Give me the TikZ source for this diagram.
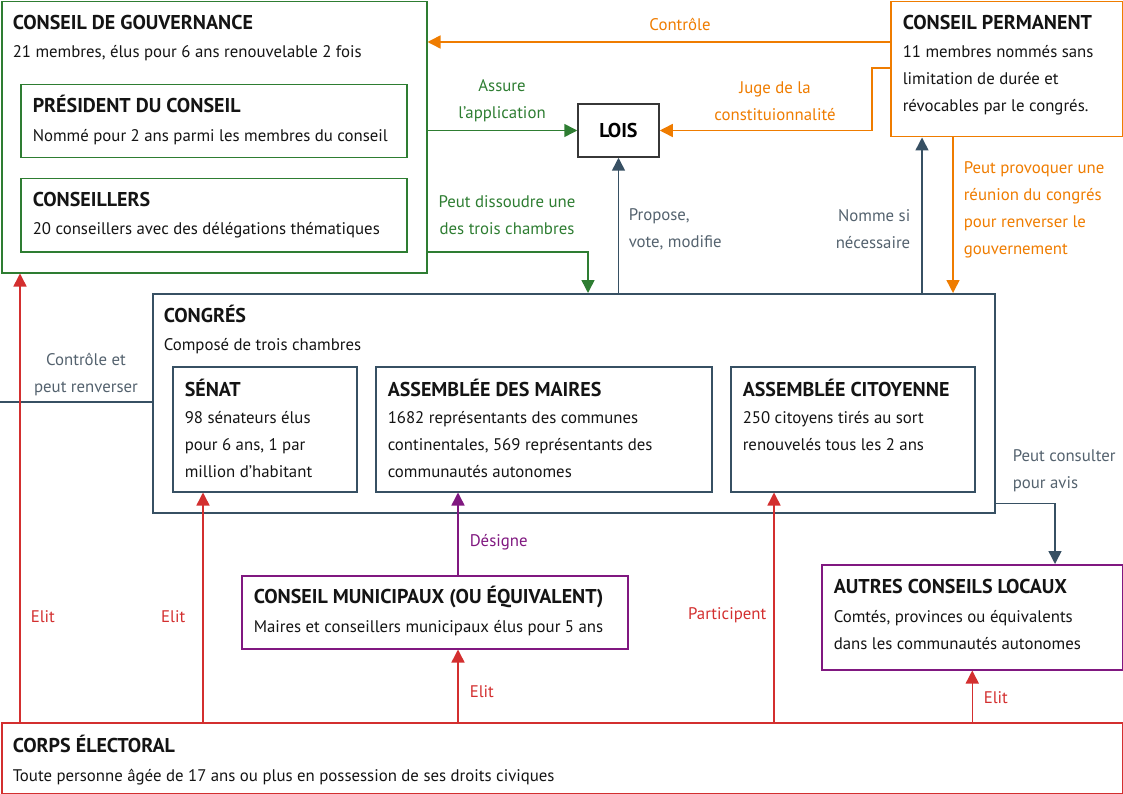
\documentclass[tikz,border=0pt]{standalone}
\usepackage{fontspec}
\setmainfont{PT Sans}
\usepackage{xcolor}
\definecolor{Vert}{RGB}{46,125,50}
\definecolor{Orange}{RGB}{239,124,0}
\definecolor{Rouge}{RGB}{211,47,47}
\definecolor{Violet}{RGB}{128,24,128}
\definecolor{Ardoise}{RGB}{55,80,99}
\definecolor{Gris}{RGB}{84,98,110}
\definecolor{Encre}{RGB}{20,20,20}
\usepackage{tikz}
\usetikzlibrary{arrows.meta,calc}

\begin{document}
\begin{tikzpicture}[x=1pt,y=-1pt,>={Triangle[length=13pt,width=13pt]},
                    line width=1.5pt]
  \tikzstyle{boite}=[draw,anchor=north west,inner sep=0pt]
  \tikzstyle{titre}=[anchor=base west,inner sep=0pt,text=Encre,font=\fontsize{20}{22}\selectfont\bfseries]
  \tikzstyle{texte}=[anchor=base west,inner sep=0pt,text=Encre,align=left,font=\fontsize{16.8}{27}\selectfont]
  \tikzstyle{etiq}=[inner sep=0pt,font=\fontsize{16.8}{27}\selectfont]

  \useasboundingbox (0,0) rectangle (1123,794);

  % boites
  \node[boite,Vert,minimum width=425,minimum height=271]      (gouv)   at (1,1)     {};
  \node[boite,Vert,minimum width=386,minimum height=73]       (pres)   at (20,84)   {};
  \node[boite,Vert,minimum width=386,minimum height=73]       (cons)   at (20,178)  {};
  \node[boite,Orange,minimum width=232,minimum height=135]    (perm)   at (890,1)   {};
  \node[draw=Encre!85,minimum width=81,minimum height=53,inner sep=0pt,
        font=\fontsize{20}{22}\selectfont\bfseries]            (lois)   at (618.5,130.5) {LOIS};
  \node[boite,Ardoise,minimum width=842,minimum height=219]   (congres) at (152,293) {};
  \node[boite,Ardoise,minimum width=184,minimum height=125]   (senat)  at (172,366) {};
  \node[boite,Ardoise,minimum width=336,minimum height=125]   (maires) at (375,366) {};
  \node[boite,Ardoise,minimum width=244,minimum height=125]   (citoy)  at (730,366) {};
  \node[boite,Violet,minimum width=386,minimum height=73]     (munic)  at (241,575) {};
  \node[boite,Violet,minimum width=301,minimum height=105]    (autres) at (821,564) {};
  \node[boite,Rouge,minimum width=1121,minimum height=71]     (corps)  at (1,722)   {};

  % textes des boites (base = derniere ligne)
  \node[titre] (gouvT)   at (12,30)   {CONSEIL DE GOUVERNANCE};
  \node[texte] (gouvD)   at (12,58)   {21 membres, élus pour 6 ans renouvelable 2 fois};
  \node[titre] (presT)   at (32,113)  {PRÉSIDENT DU CONSEIL};
  \node[texte] (presD)   at (32,142)  {Nommé pour 2 ans parmi les membres du conseil};
  \node[titre] (consT)   at (32,207)  {CONSEILLERS};
  \node[texte] (consD)   at (32,235)  {20 conseillers avec des délégations thématiques};
  \node[titre] (permT)   at (902,30)  {CONSEIL PERMANENT};
  \node[texte] (permD)   at (902,112) {11 membres nommés sans\\limitation de durée et\\révocables par le congrés.};
  \node[titre] (congT)   at (163,322) {CONGRÉS};
  \node[texte] (congD)   at (163,350) {Composé de trois chambres};
  \node[titre] (senT)    at (184,396) {SÉNAT};
  \node[texte] (senD)    at (184,477) {98 sénateurs élus\\pour 6 ans, 1 par\\million d’habitant};
  \node[titre] (mairT)   at (387,396) {ASSEMBLÉE DES MAIRES};
  \node[texte] (mairD)   at (387,477) {1682 représentants des communes\\continentales, 569 représentants des\\communautés autonomes};
  \node[titre] (citT)    at (742,396) {ASSEMBLÉE CITOYENNE};
  \node[texte] (citD)    at (742,450) {250 citoyens tirés au sort\\renouvelés tous les 2 ans};
  \node[titre] (munT)    at (253,603) {CONSEIL MUNICIPAUX (OU ÉQUIVALENT)};
  \node[texte] (munD)    at (253,632) {Maires et conseillers municipaux élus pour 5 ans};
  \node[titre] (autT)    at (833,593) {AUTRES CONSEILS LOCAUX};
  \node[texte] (autD)    at (833,649) {Comtés, provinces ou équivalents\\dans les communautés autonomes};
  \node[titre] (corpsT)  at (12,752)  {CORPS ÉLECTORAL};
  \node[texte] (corpsD)  at (12,781)  {Toute personne âgée de 17 ans ou plus en possession de ses droits civiques};

  % points de passage
  \coordinate (bord) at (0,402);
  \coordinate (c1)   at (890,42);
  \coordinate (c2)   at (890,68);
  \coordinate (c3)   at (426,252);
  \coordinate (xdis) at (588,0);
  \coordinate (xnom) at (922,0);
  \coordinate (xprov) at (953,0);
  \coordinate (xcons) at (1055,0);
  \coordinate (xmun) at (458,0);
  \coordinate (xsen) at (203,0);
  \coordinate (xcit) at (774,0);

  % liens
  \draw[Ardoise] (bord) -- (bord -| congres.west);
  \draw[Ardoise,->] (congres.north -| lois.south) -- (lois.south);
  \draw[Ardoise,->] (congres.north -| xnom) -- (perm.south -| xnom);
  \draw[Ardoise,->] ($(congres.south east)+(0,-10)$) -| (autres.north -| xcons);
  \draw[Orange,->] (c1) -- (c1 -| gouv.east);
  \draw[Orange,->] (c2) -- ++(-18,0) |- (lois.east);
  \draw[Orange,->] (perm.south -| xprov) -- (congres.north -| xprov);
  \draw[Vert,->] (lois.west -| gouv.east) -- (lois.west);
  \draw[Vert,->] (c3) -| (congres.north -| xdis);
  \draw[Violet,->] (munic.north -| xmun) -- (maires.south -| xmun);
  \draw[Rouge,->] (corps.north -| pres.west) -- (gouv.south -| pres.west);
  \draw[Rouge,->] (corps.north -| xsen) -- (senat.south -| xsen);
  \draw[Rouge,->] (corps.north -| xmun) -- (munic.south -| xmun);
  \draw[Rouge,->] (corps.north -| xcit) -- (citoy.south -| xcit);
  \draw[Rouge,->] (corps.north -| autres.south) -- (autres.south);

  % etiquettes
  \node[etiq,Orange] (lctrl) at (680,24) {Contrôle};
  \node[etiq,Vert,align=center] (lassure) at (502,101) {Assure\\l’application};
  \node[etiq,Orange,align=center] (ljuge) at (775,101) {Juge de la\\constituionnalité};
  \node[etiq,Vert,align=center] (ldiss) at (507,215) {Peut dissoudre une\\des trois chambres};
  \node[etiq,Gris,align=left,anchor=west] (lprop) at (628,229) {Propose,\\vote, modifie};
  \node[etiq,Gris,align=right,anchor=east] (lnom) at (911,229) {Nomme si\\nécessaire};
  \node[etiq,Orange,align=left,anchor=west] (lprov) at (963,209.5) {Peut provoquer une\\réunion du congrés\\pour renverser le\\gouvernement};
  \node[etiq,Gris,align=center] (lrenv) at (86,375) {Contrôle et\\peut renverser};
  \node[etiq,Gris,align=left,anchor=west] (lavis) at (1012,471) {Peut consulter\\pour avis};
  \node[etiq,Violet,anchor=west] (ldes) at (469,542) {Désigne};
  \node[etiq,Rouge,anchor=west] (lel1) at (30,617) {Elit};
  \node[etiq,Rouge,anchor=east] (lel2) at (186,617) {Elit};
  \node[etiq,Rouge,anchor=east] (lpart) at (767,615) {Participent};
  \node[etiq,Rouge,anchor=west] (lel3) at (469,692) {Elit};
  \node[etiq,Rouge,anchor=west] (lel4) at (983,698) {Elit};
\end{tikzpicture}
\end{document}
